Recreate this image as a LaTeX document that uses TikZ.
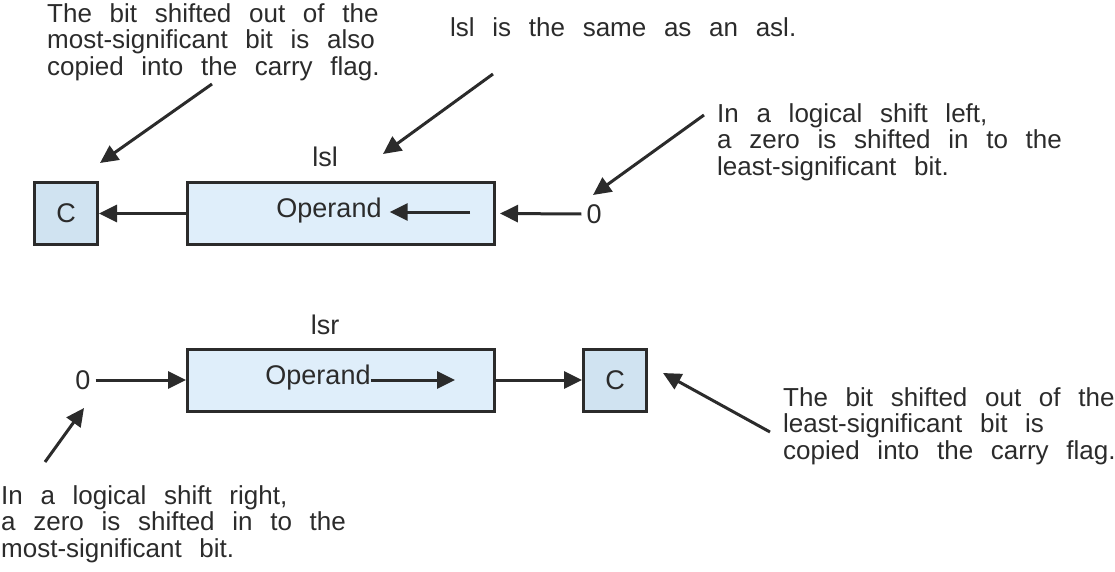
\documentclass[tikz,border=0pt]{standalone}
\usepackage{fontspec}
\setmainfont{Liberation Sans}
\newfontfamily\notefont{Liberation Sans}[WordSpace=2.45]
\usetikzlibrary{arrows.meta}

\definecolor{inkgray}{HTML}{2B2B2B}
\definecolor{carryblue}{HTML}{D0E3F1}
\definecolor{operandblue}{HTML}{DFEEFA}

\tikzset{
  lbl/.style={font=\fontsize{27}{26.5}\selectfont, text=inkgray, inner sep=0pt},
  note/.style={font=\notefont\fontsize{26}{26.5}\selectfont, text=inkgray,
    inner sep=0pt, align=left, anchor=north west},
  carrybox/.style={lbl, draw=inkgray, line width=3pt, fill=carryblue,
    minimum width=63pt, minimum height=62pt},
  regbox/.style={carrybox, fill=operandblue, minimum width=307pt},
  shiftarr/.style={draw=inkgray, line width=3pt, -{Triangle[length=18pt,width=17pt]}},
}

\begin{document}
\begin{tikzpicture}[x=1pt, y=-1pt]
	\useasboundingbox (0,0) rectangle (1115,572);
	% logical shift left
	\node[carrybox] (carryL) at (66,213.5) {C};
	\node[regbox] (regL) at (341,213.5) {};
	\node[lbl] (opL) at (329,211) {Operand};
	\node[lbl] (lslname) at (325,157) {lsl};
	\node[lbl] (zeroL) at (594,214) {0};
	\coordinate (inL) at (470,212);
	\draw[shiftarr] (inL) -- ([xshift=8pt]opL.east |- inL);
	\draw[shiftarr] (regL.west) -- (carryL.east);
	\draw[shiftarr] ([xshift=-5pt]zeroL.west) -- ([xshift=4pt]regL.east);
	% notes, top
	\node[note] (noteC1) at (47,3) {The bit shifted out of the\\most-significant bit is also\\copied into the carry flag.};
	\node[note] (noteSame) at (450,17) {lsl is the same as an asl.};
	\node[note] (noteZ1) at (717,103) {In a logical shift left,\\a zero is shifted in to the\\least-significant bit.};
	\coordinate (tailC1) at (212,84);
	\coordinate (headC1) at (100,163);
	\coordinate (tailSame) at (493,74);
	\coordinate (headSame) at (383,154);
	\coordinate (tailZ1) at (704,115);
	\coordinate (headZ1) at (593,195);
	\draw[shiftarr] (tailC1) -- (headC1);
	\draw[shiftarr] (tailSame) -- (headSame);
	\draw[shiftarr] (tailZ1) -- (headZ1);
	% logical shift right
	\node[regbox] (regR) at (341,380) {};
	\node[carrybox] (carryR) at (615,380) {C};
	\node[lbl] (opR) at (318,378) {Operand};
	\node[lbl] (lsrname) at (325,325) {lsr};
	\node[lbl] (zeroR) at (83,380) {0};
	\coordinate (outR) at (455,380);
	\draw[shiftarr] (opR.east |- outR) -- (outR);
	\draw[shiftarr] ([xshift=5pt]zeroR.east) -- (regR.west);
	\draw[shiftarr] (regR.east) -- (carryR.west);
	% notes, bottom
	\node[note] (noteZ2) at (1,485) {In a logical shift right,\\a zero is shifted in to the\\most-significant bit.};
	\node[note] (noteC2) at (783,387) {The bit shifted out of the\\least-significant bit is\\copied into the carry flag.};
	\coordinate (tailZ2) at (45,462);
	\coordinate (headZ2) at (84,408);
	\coordinate (tailC2) at (770,432);
	\coordinate (headC2) at (663,373);
	\draw[shiftarr] (tailZ2) -- (headZ2);
	\draw[shiftarr] (tailC2) -- (headC2);
\end{tikzpicture}
\end{document}
